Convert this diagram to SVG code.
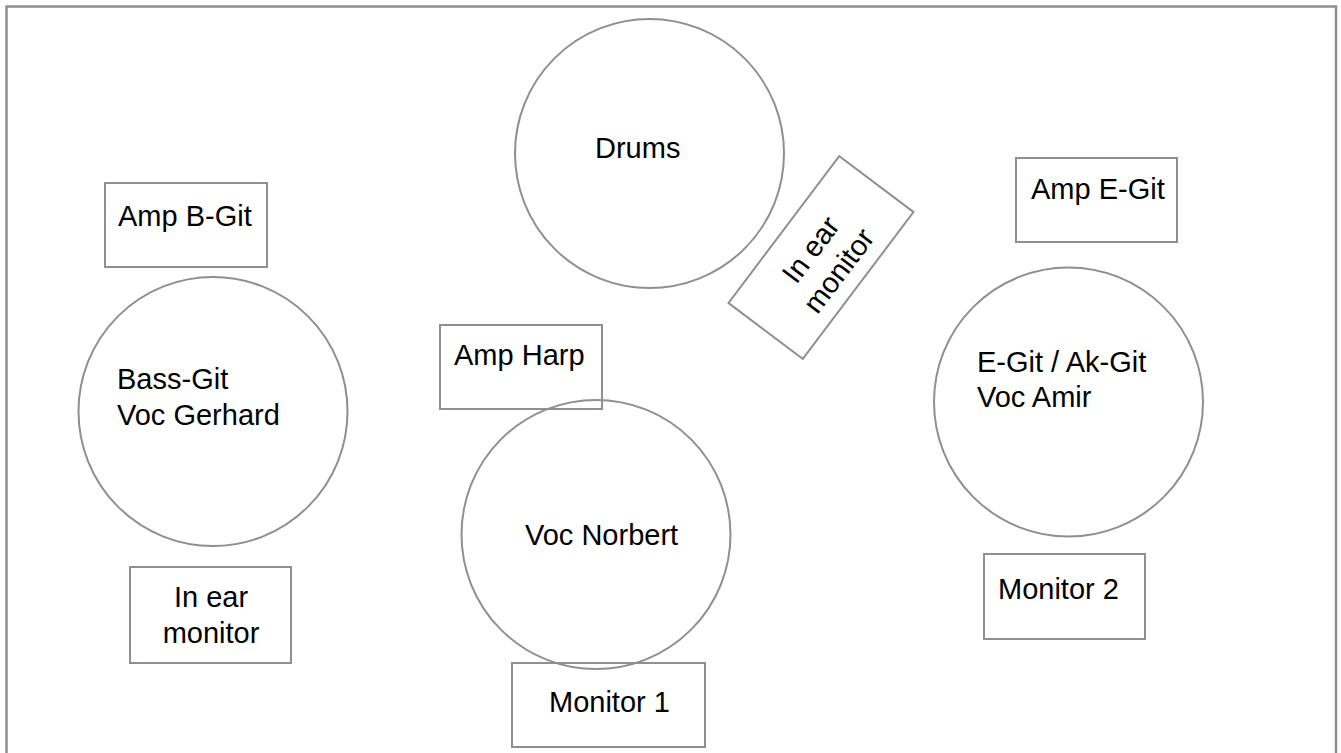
<svg xmlns="http://www.w3.org/2000/svg" width="1341" height="753" viewBox="0 0 1341 753">
<style>
.s{fill:none;stroke:#8d8f93;stroke-width:2}
.c{fill:none;stroke:#8d8f93;stroke-width:2}
.t{font-family:"Liberation Sans",Arial,sans-serif;font-size:29px;fill:#000}
.m{text-anchor:middle}
</style>
<rect x="0" y="0" width="1341" height="753" fill="#fff"/>
<rect id="border" x="6.5" y="6.5" width="1329.5" height="760" fill="none" stroke="#8d8f93" stroke-width="2.5"/>
<g id="drums"><circle class="c" cx="649.5" cy="153.5" r="134.5"/><text class="t" x="595" y="158">Drums</text></g>
<g id="amp-b-git"><rect class="s" x="105" y="183" width="162" height="84"/><text class="t" x="118" y="226">Amp B-Git</text></g>
<g id="amp-e-git"><rect class="s" x="1016" y="158" width="161" height="84"/><text class="t" x="1031" y="199">Amp E-Git</text></g>
<g id="in-ear-drums" transform="translate(821 257.5) rotate(-53)"><rect class="s" x="-92" y="-46.5" width="184" height="93"/><text class="t m" x="0" y="-3">In ear</text><text class="t m" x="0" y="32">monitor</text></g>
<g id="bass"><circle class="c" cx="213" cy="411.5" r="134.5"/><text class="t" x="117" y="389">Bass-Git</text><text class="t" x="117" y="425">Voc Gerhard</text></g>
<g id="amp-harp"><rect class="s" x="440" y="325" width="162" height="84"/><text class="t" x="454" y="365">Amp Harp</text></g>
<g id="norbert"><circle class="c" cx="596" cy="534.5" r="134.5"/><text class="t" x="525" y="545">Voc Norbert</text></g>
<g id="egit"><circle class="c" cx="1068.5" cy="402" r="134.5"/><text class="t" x="977" y="372">E-Git / Ak-Git</text><text class="t" x="977" y="407">Voc Amir</text></g>
<g id="in-ear-left"><rect class="s" x="130" y="567" width="161" height="96"/><text class="t m" x="211" y="607">In ear</text><text class="t m" x="211" y="643">monitor</text></g>
<g id="monitor1"><rect class="s" x="512" y="663" width="193" height="84"/><text class="t" x="549" y="712">Monitor 1</text></g>
<g id="monitor2"><rect class="s" x="984" y="554" width="161" height="85"/><text class="t" x="998" y="599">Monitor 2</text></g>
<g id="connectors"/>
</svg>
